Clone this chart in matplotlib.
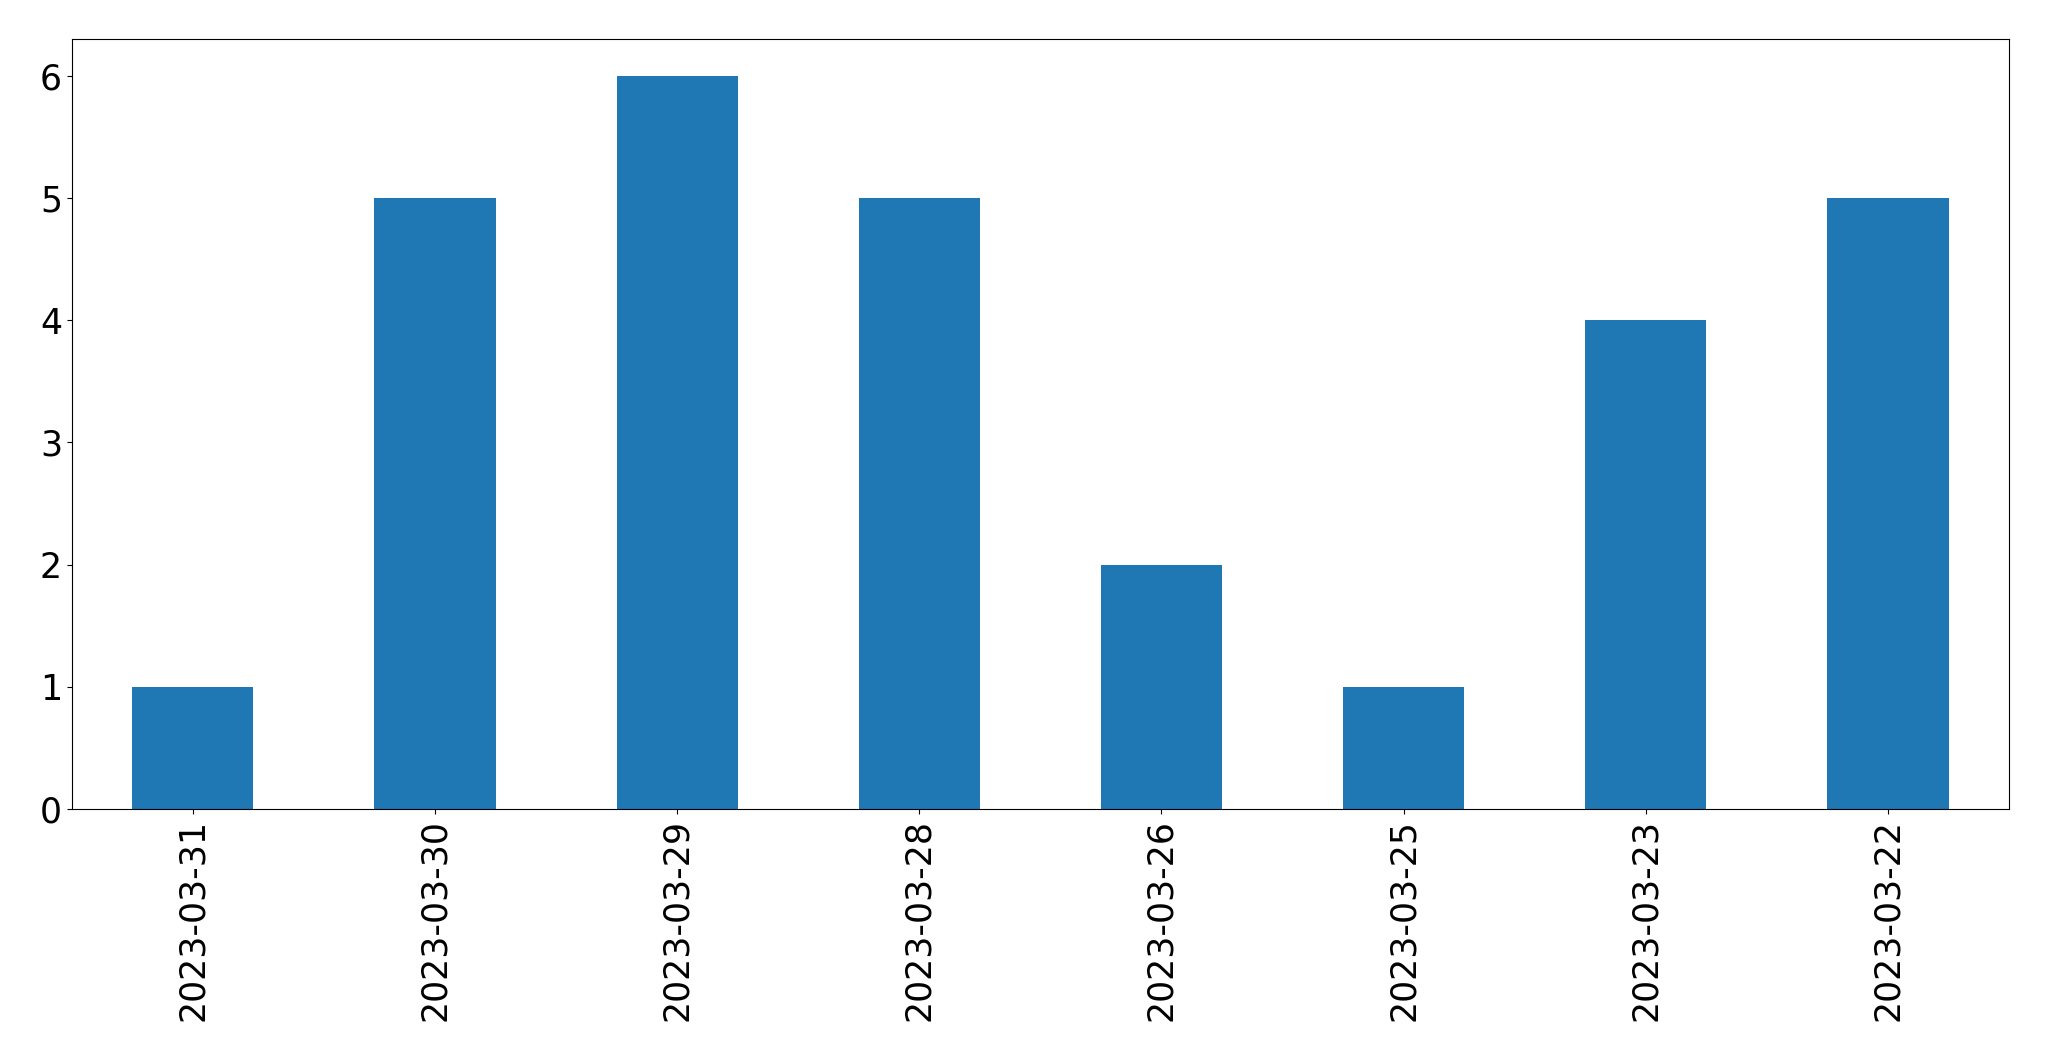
import matplotlib
matplotlib.use('Agg')
import matplotlib.pyplot as plt
import pandas as pd

# dates and counts, newest first as in the source chart
dates = ['2023-03-31', '2023-03-30', '2023-03-29', '2023-03-28',
         '2023-03-26', '2023-03-25', '2023-03-23', '2023-03-22']
counts = [1, 5, 6, 5, 2, 1, 4, 5]

s = pd.Series(counts, index=dates)

fig = plt.figure(figsize=(20.49, 10.61), dpi=100)
ax = fig.add_axes([0.035, 0.2375, 0.9455, 0.7257])
s.plot(kind='bar', ax=ax, color='#1f77b4', fontsize=25)

fig.savefig('out.png', dpi=100)
